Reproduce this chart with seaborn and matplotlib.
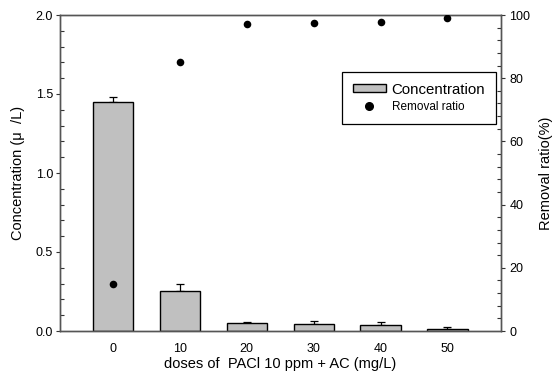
import matplotlib
matplotlib.use("Agg")
import matplotlib.pyplot as plt
from matplotlib.ticker import MultipleLocator, FormatStrFormatter
from matplotlib.patches import Patch
from matplotlib.lines import Line2D
import numpy as np
import pandas as pd
import seaborn as sns

doses = ["0", "10", "20", "30", "40", "50"]
concentration = [1.45, 0.253, 0.053, 0.046, 0.038, 0.015]
conc_err = [0.033, 0.042, 0.006, 0.019, 0.021, 0.010]
removal = [15.0, 85.0, 97.0, 97.5, 97.8, 99.2]

sns.set_style("ticks")
plt.rcParams["font.family"] = ["Liberation Sans", "DejaVu Sans"]
plt.rcParams["text.color"] = "black"
plt.rcParams["axes.labelcolor"] = "black"
plt.rcParams["xtick.color"] = "black"
plt.rcParams["ytick.color"] = "black"

fig = plt.figure(figsize=(5.53, 3.76), dpi=100)
ax = fig.add_axes([60 / 553, 45 / 376, 441 / 553, 316 / 376])

df = pd.DataFrame({"dose": doses, "conc": concentration})
sns.barplot(data=df, x="dose", y="conc", color="#c0c0c0", edgecolor="black",
            linewidth=1.0, width=0.6, saturation=1, ax=ax, zorder=2)
pos = np.arange(len(doses))
ax.errorbar(pos, concentration, yerr=[np.zeros(len(doses)), conc_err], fmt="none",
            ecolor="black", elinewidth=0.9, capsize=3, capthick=0.9, zorder=1)

ax.set_xlim(-0.79, 5.8)
ax.set_ylim(0, 2.0)
ax.yaxis.set_major_locator(MultipleLocator(0.5))
ax.yaxis.set_minor_locator(MultipleLocator(0.1))
ax.yaxis.set_major_formatter(FormatStrFormatter("%.1f"))
ax.tick_params(axis="y", which="major", direction="out", length=3, width=0.8,
               labelsize=9, pad=2, color="#333333")
ax.tick_params(axis="y", which="minor", direction="in", length=3, width=0.8, color="#333333")
ax.tick_params(axis="x", length=0, labelsize=9, pad=9)
ax.set_xlabel("doses of  PACl 10 ppm + AC (mg/L)", fontsize=10.5, labelpad=1)
ax.set_ylabel("Concentration (\u03bc  /L)", fontsize=10.5, labelpad=8)
for s in ax.spines.values():
    s.set_color("#555555")
    s.set_linewidth(1.0)

ax2 = ax.twinx()
sns.scatterplot(x=pos, y=removal, color="black", s=30, edgecolor="black",
                linewidth=0, ax=ax2, zorder=3)
ax2.set_ylim(0, 100)
ax2.set_xlim(-0.79, 5.8)
ax2.yaxis.set_major_locator(MultipleLocator(20))
ax2.yaxis.set_minor_locator(MultipleLocator(4))
ax2.tick_params(axis="y", which="major", direction="out", length=3, width=0.8,
                labelsize=9, pad=3, color="#333333")
ax2.tick_params(axis="y", which="minor", direction="in", length=3, width=0.8, color="#333333")
ax2.set_ylabel("Removal ratio(%)", fontsize=10.5, labelpad=6)
for s in ax2.spines.values():
    s.set_color("#555555")
    s.set_linewidth(1.0)

handles = [Patch(facecolor="#c0c0c0", edgecolor="black", linewidth=1.0),
           Line2D([], [], marker="o", color="black", linestyle="none", markersize=5.5)]
leg = ax2.legend(handles, ["Concentration", "Removal ratio"], loc="upper left",
                 bbox_to_anchor=(341.7 / 553, 1 - 72 / 376), bbox_transform=fig.transFigure,
                 frameon=True, fancybox=False, fontsize=10.8,
                 edgecolor="black", framealpha=1, handlelength=2.2, handleheight=0.45,
                 borderpad=0.72, labelspacing=0.28, handletextpad=0.4, borderaxespad=0)
leg.get_frame().set_linewidth(0.9)
leg.get_texts()[1].set_fontsize(8.5)

fig.savefig("out.png", dpi=100)
